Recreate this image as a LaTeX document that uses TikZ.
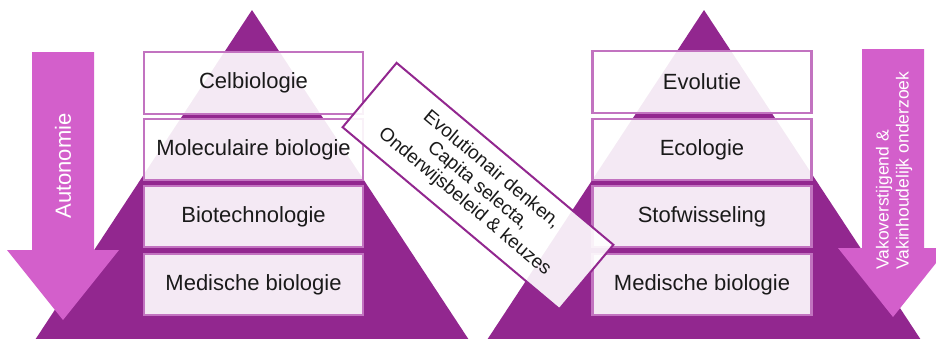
\documentclass[tikz,border=0pt]{standalone}
\usepackage{fontspec}
\setmainfont{Liberation Sans}
\definecolor{tri}{HTML}{92278F}
\definecolor{arr}{HTML}{D35FCB}
\definecolor{bord}{HTML}{C273C0}
\definecolor{txt}{HTML}{1A1A1A}
\begin{document}
\begin{tikzpicture}[x=1pt,y=-1pt,
  lbox/.style={draw=bord, line width=2.2pt, fill=white, fill opacity=0.9, text opacity=1,
    text=txt, minimum width=219pt, inner sep=0pt, font=\fontsize{22}{26}\selectfont},
  diagbox/.style={draw=tri, line width=2pt, fill=white, fill opacity=0.9, text opacity=1,
    text=txt, minimum width=283pt, minimum height=84pt, inner sep=0pt, align=center,
    font=\fontsize{19}{21}\selectfont},
  arrtext/.style={text=white, inner sep=0pt}
]
\useasboundingbox (0,0) rectangle (936,338);
\clip (0,0) rectangle (936,338);
% triangles
\fill[tri] (252,10) -- (469,340) -- (35,340) -- cycle;
\fill[tri] (704,10) -- (921,340) -- (487,340) -- cycle;
% arrows
\fill[arr] (32,52) -- (94,52) -- (94,250) -- (119,250) -- (63,320) -- (7,250) -- (32,250) -- cycle;
\fill[arr] (862,49) -- (924,49) -- (924,248) -- (948,248) -- (893,317) -- (838,248) -- (862,248) -- cycle;
\node[arrtext, rotate=90, font=\fontsize{22}{26}\selectfont] (auto) at (63,166) {Autonomie};
\node[arrtext, rotate=90, anchor=west, align=left, font=\fontsize{17.5}{20}\selectfont] (vak) at (894,270)
  {Vakoverstijgend \&\\Vakinhoudelijk onderzoek};
% left boxes
\node[lbox, minimum height=62pt] (l1) at (253.5,83) {Celbiologie};
\node[lbox, minimum height=61pt] (l2) at (253.5,149.5) {Moleculaire biologie};
\node[lbox, minimum height=61pt] (l3) at (253.5,216.5) {Biotechnologie};
\node[lbox, minimum height=61pt] (l4) at (253.5,284.5) {Medische biologie};
% right boxes
\node[lbox, minimum height=62pt] (r1) at (702,82) {Evolutie};
\node[lbox, minimum height=61pt] (r2) at (702,149.5) {Ecologie};
\node[lbox, minimum height=61pt] (r3) at (702,216.5) {Stofwisseling};
\node[lbox, minimum height=61pt] (r4) at (702,284.5) {Medische biologie};
% diagonal box
\node[diagbox, rotate=-40] (d) at (478,186) {Evolutionair denken,\\Capita selecta,\\Onderwijsbeleid \& keuzes};
\end{tikzpicture}
\end{document}
